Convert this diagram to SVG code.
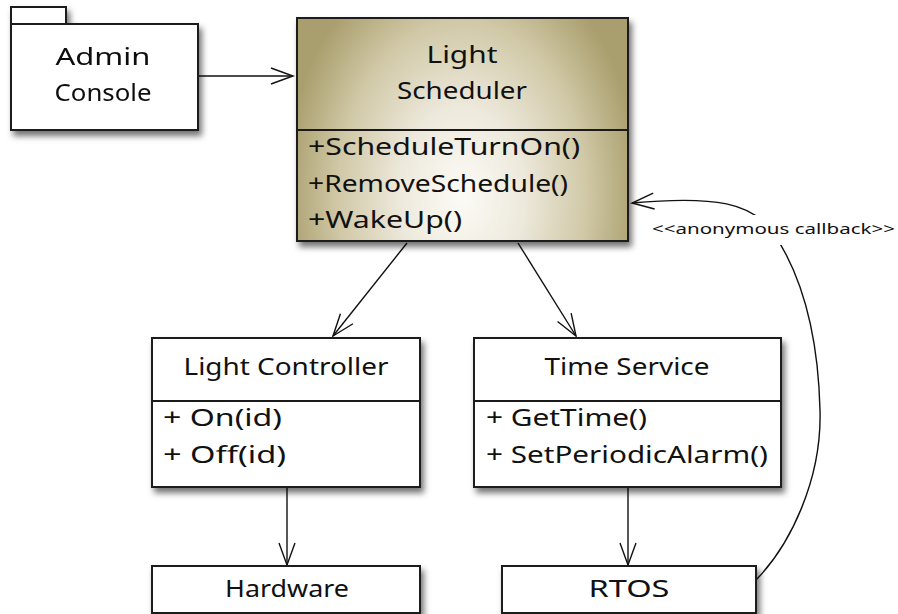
<svg xmlns="http://www.w3.org/2000/svg" width="898" height="614" viewBox="0 0 898 614">
<style>
.box{fill:#fff;stroke:#1a1a1a;stroke-width:2}
.t{font-family:"Noto Sans","DejaVu Sans",sans-serif;font-size:23px;fill:#111}
.c{text-anchor:middle}
.lbl{font-family:"Noto Sans","DejaVu Sans",sans-serif;font-size:15px;fill:#111}
.conn{fill:none;stroke:#111;stroke-width:1.4}
.div{stroke:#1a1a1a;stroke-width:2}
</style>
<defs>
<filter id="sh" x="-10%" y="-10%" width="125%" height="135%">
<feDropShadow dx="3" dy="5" stdDeviation="3" flood-color="#000" flood-opacity="0.55"/>
</filter>
<radialGradient id="lsg" gradientUnits="userSpaceOnUse" cx="462" cy="195" r="178" gradientTransform="translate(462,195) scale(1,1.4) translate(-462,-195)">
<stop offset="0" stop-color="#fcfbf6"/>
<stop offset="0.35" stop-color="#ede9dc"/>
<stop offset="0.7" stop-color="#d0c8a6"/>
<stop offset="1" stop-color="#a99e6d"/>
</radialGradient>
<marker id="ar" markerUnits="userSpaceOnUse" markerWidth="26" markerHeight="20" refX="23" refY="10" orient="auto">
<path d="M1,2 L23,10 L1,18" fill="none" stroke="#111" stroke-width="1.4"/>
</marker>
<mask id="lm">
<rect x="0" y="0" width="898" height="614" fill="#fff"/>
<rect x="650" y="215" width="248" height="30" fill="#000"/>
</mask>
</defs>

<g id="connectors">
<line class="conn" x1="198" y1="76" x2="293" y2="76" marker-end="url(#ar)"/>
<line class="conn" x1="407" y1="243" x2="333" y2="336" marker-end="url(#ar)"/>
<line class="conn" x1="518" y1="243" x2="576" y2="336" marker-end="url(#ar)"/>
<line class="conn" x1="287" y1="488" x2="287" y2="565" marker-end="url(#ar)"/>
<line class="conn" x1="628" y1="488" x2="628" y2="565" marker-end="url(#ar)"/>
<path class="conn" mask="url(#lm)" d="M756,580 C790,545 822,480 820,410 C818,330 800,270 770,228 C750,205 720,195 632,203" marker-end="url(#ar)"/>
<text class="lbl" x="652" y="234" textLength="243" lengthAdjust="spacingAndGlyphs">&lt;&lt;anonymous callback&gt;&gt;</text>
</g>

<g id="admin-console" filter="url(#sh)">
<rect class="box" x="11" y="7" width="55" height="17"/>
<rect class="box" x="11" y="24" width="187" height="106"/>
<text class="t c" x="103" y="65" textLength="95" lengthAdjust="spacingAndGlyphs">Admin</text>
<text class="t c" x="103" y="101" textLength="97" lengthAdjust="spacingAndGlyphs">Console</text>
</g>

<g id="light-scheduler">
<rect x="297" y="18" width="331" height="223" fill="url(#lsg)" stroke="#1a1a1a" stroke-width="2" filter="url(#sh)"/>
<line class="div" x1="297" y1="130" x2="628" y2="130"/>
<text class="t c" x="462" y="63" textLength="71" lengthAdjust="spacingAndGlyphs">Light</text>
<text class="t c" x="462" y="99" textLength="130" lengthAdjust="spacingAndGlyphs">Scheduler</text>
<text class="t" x="308" y="155" textLength="272" lengthAdjust="spacingAndGlyphs">+ScheduleTurnOn()</text>
<text class="t" x="308" y="192" textLength="260" lengthAdjust="spacingAndGlyphs">+RemoveSchedule()</text>
<text class="t" x="308" y="228" textLength="154" lengthAdjust="spacingAndGlyphs">+WakeUp()</text>
</g>

<g id="light-controller">
<rect class="box" x="152" y="338" width="268" height="149" filter="url(#sh)"/>
<line class="div" x1="152" y1="401" x2="420" y2="401"/>
<text class="t c" x="286" y="375" textLength="205" lengthAdjust="spacingAndGlyphs">Light Controller</text>
<text class="t" x="163" y="426" textLength="119" lengthAdjust="spacingAndGlyphs">+ On(id)</text>
<text class="t" x="163" y="463" textLength="123" lengthAdjust="spacingAndGlyphs">+ Off(id)</text>
</g>

<g id="time-service">
<rect class="box" x="474" y="338" width="307" height="149" filter="url(#sh)"/>
<line class="div" x1="474" y1="401" x2="781" y2="401"/>
<text class="t c" x="627" y="375" textLength="165" lengthAdjust="spacingAndGlyphs">Time Service</text>
<text class="t" x="486" y="426" textLength="161" lengthAdjust="spacingAndGlyphs">+ GetTime()</text>
<text class="t" x="486" y="463" textLength="282" lengthAdjust="spacingAndGlyphs">+ SetPeriodicAlarm()</text>
</g>

<g id="hardware">
<rect class="box" x="152" y="566" width="268" height="47" filter="url(#sh)"/>
<text class="t c" x="287" y="597" textLength="124" lengthAdjust="spacingAndGlyphs">Hardware</text>
</g>

<g id="rtos">
<rect class="box" x="502" y="566" width="254" height="47" filter="url(#sh)"/>
<text class="t c" x="629" y="597" textLength="81" lengthAdjust="spacingAndGlyphs">RTOS</text>
</g>
</svg>
